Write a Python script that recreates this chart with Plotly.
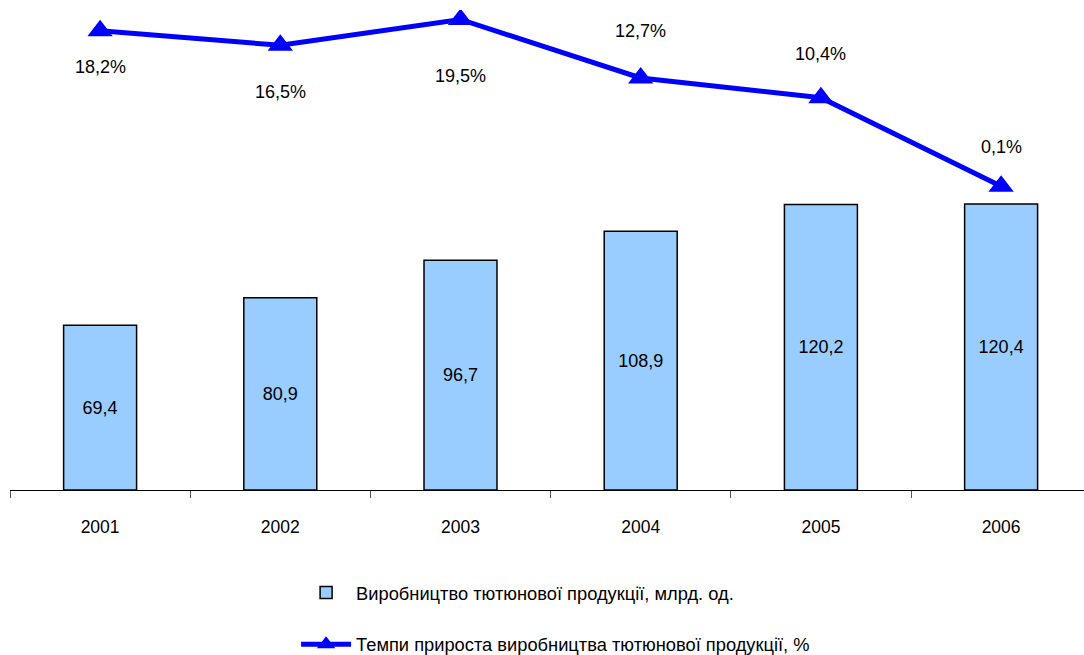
import plotly.graph_objects as go

years = ["2001", "2002", "2003", "2004", "2005", "2006"]
production = [69.4, 80.9, 96.7, 108.9, 120.2, 120.4]
growth = [18.2, 16.5, 19.5, 12.7, 10.4, 0.1]
prod_labels = ["69,4", "80,9", "96,7", "108,9", "120,2", "120,4"]
growth_labels = ["18,2%", "16,5%", "19,5%", "12,7%", "10,4%", "0,1%"]
bar_name = "Виробництво тютюнової продукції, млрд. од."
line_name = "Темпи прироста виробництва тютюнової продукції, %"
label_shift = [-36, -47, -57, 47, 44, 39]

FONT = "Liberation Sans, Arial, sans-serif"

fig = go.Figure()
fig.add_trace(go.Bar(
    x=years, y=production, name=bar_name,
    marker=dict(color="#99CCFF", line=dict(color="#000000", width=1.5)),
    width=0.405,
    text=prod_labels, textposition="inside", insidetextanchor="middle",
    textfont=dict(size=18, color="black", family=FONT),
    yaxis="y", legendgroup="a",
))
fig.add_trace(go.Scatter(
    x=years, y=growth, name=line_name, mode="lines+markers",
    line=dict(color="#0000FF", width=5),
    marker=dict(symbol="triangle-up", size=22, color="#0000FF"),
    yaxis="y2", legendgroup="b",
))

for i, (yv, lab, sh) in enumerate(zip(growth, growth_labels, label_shift)):
    fig.add_annotation(x=i, y=yv, xref="x", yref="y2", text=lab, showarrow=False,
                       yshift=sh, font=dict(size=18, color="black", family=FONT))

fig.update_layout(
    width=1084, height=655,
    margin=dict(l=10, r=0, t=10, b=165, autoexpand=False),
    plot_bgcolor="white", paper_bgcolor="white",
    font=dict(family=FONT, size=18, color="black"),
    xaxis=dict(type="category", range=[-0.5, 5.46], showline=True, linecolor="black",
               linewidth=1, ticks="outside", tickson="boundaries", ticklen=7,
               tickcolor="#555555", showgrid=False, ticklabelstandoff=21,
               tickfont=dict(size=17.5, family=FONT)),
    yaxis=dict(range=[0, 202.1], visible=False, showgrid=False),
    yaxis2=dict(range=[-35.2, 20.6], overlaying="y", visible=False, showgrid=False),
    showlegend=True,
    legend=dict(orientation="v", x=0.508, xanchor="center", y=-0.175, yanchor="top",
                traceorder="grouped", tracegroupgap=25, itemwidth=50,
                font=dict(size=18.3, family=FONT), bgcolor="rgba(0,0,0,0)"),
)

fig.write_html("out.html", config={"displayModeBar": False},
               post_script="document.body.style.margin='0';")
